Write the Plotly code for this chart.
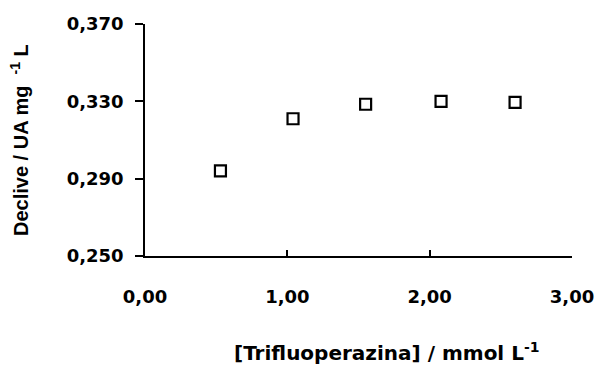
import plotly.graph_objects as go

# Trifluoperazine concentration (mmol/L) vs. slope (UA mg^-1 L)
concentracao = [0.53, 1.04, 1.55, 2.08, 2.60]
declive = [0.294, 0.321, 0.3285, 0.330, 0.3295]

x_ticks = [0, 1, 2, 3]
y_ticks = [0.250, 0.290, 0.330, 0.370]

TICK_FONT = dict(family="DejaVu Sans", size=18, color="black", weight="bold")

fig = go.Figure()
fig.add_trace(go.Scatter(
    x=concentracao, y=declive, mode="markers",
    marker=dict(symbol="square-open", size=11, color="black",
                line=dict(width=2.2, color="black")),
    showlegend=False, cliponaxis=False,
))

fig.update_layout(
    width=595, height=376,
    margin=dict(l=145, r=23, t=24, b=120),
    paper_bgcolor="white", plot_bgcolor="white",
    separators=",.",
    font=dict(family="DejaVu Sans", size=18, color="black"),
    xaxis=dict(
        range=[0, 3], tickvals=x_ticks, tickformat=".2f",
        automargin=False,
        showgrid=False, zeroline=False,
        showline=True, linecolor="black", linewidth=1.5,
        ticks="inside", ticklen=6, tickwidth=1.5, tickcolor="black",
        tickfont=TICK_FONT,
        ticklabelstandoff=24,
    ),
    yaxis=dict(
        range=[0.25, 0.37], tickvals=y_ticks, tickformat=".3f",
        automargin=False,
        showgrid=False, zeroline=False,
        showline=True, linecolor="black", linewidth=1.5,
        ticks="outside", ticklen=8, tickwidth=1.5, tickcolor="black",
        tickfont=TICK_FONT,
        ticklabelstandoff=8,
    ),
    annotations=[
        dict(text="Declive / UA mg&nbsp;&nbsp;<sup>-1</sup> L", textangle=-90,
             xref="paper", yref="paper", x=-0.295, y=0.50,
             xanchor="center", yanchor="middle", showarrow=False,
             font=dict(family="Liberation Sans", size=20, color="black",
                       weight="bold")),
        dict(text="[Trifluoperazina] / mmol L<sup>-1</sup>",
             xref="paper", yref="paper", x=0.567, y=-0.415,
             xanchor="center", yanchor="middle", showarrow=False,
             font=dict(family="DejaVu Sans", size=20, color="black",
                       weight="bold")),
    ],
)

fig.write_html("out.html")
